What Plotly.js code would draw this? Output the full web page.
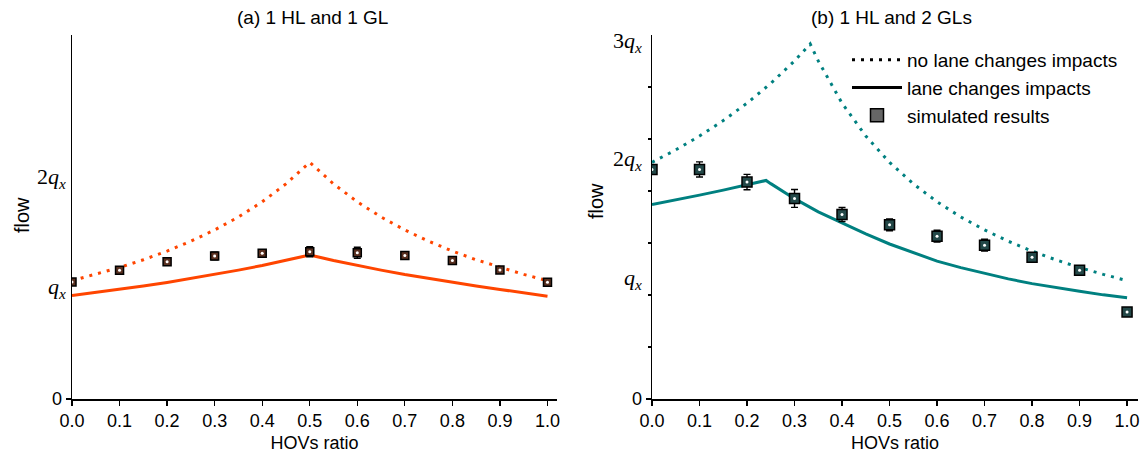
<!DOCTYPE html>
<html>
<head>
<meta charset="utf-8">
<script src="https://cdn.plot.ly/plotly-3.0.1.min.js"></script>
<style>html,body{margin:0;padding:0;background:#fff;}#chart{width:1145px;height:459px;}</style>
</head>
<body>
<div id="chart"></div>
<script>
// ---------- data (flow in units of q_x) ----------
const hovTicks = [0, 0.1, 0.2, 0.3, 0.4, 0.5, 0.6, 0.7, 0.8, 0.9, 1.0];
const hovTickText = ['0.0','0.1','0.2','0.3','0.4','0.5','0.6','0.7','0.8','0.9','1.0'];

// panel (a): 1 HL and 1 GL
const leftCurveX = [0,0.05,0.1,0.15,0.2,0.25,0.3,0.35,0.4,0.45,0.5,0.55,0.6,0.65,0.7,0.75,0.8,0.85,0.9,0.95,1.0];
const leftNoLC   = [1.076,1.133,1.196,1.266,1.345,1.435,1.537,1.655,1.793,1.956,2.152,1.956,1.793,1.655,1.537,1.435,1.345,1.266,1.196,1.133,1.076];
const leftLC     = [0.94,0.967,0.996,1.027,1.060,1.095,1.132,1.172,1.214,1.260,1.310,1.260,1.214,1.172,1.132,1.095,1.060,1.027,0.996,0.967,0.935];
const leftSimX   = [0,0.1,0.2,0.3,0.4,0.5,0.6,0.7,0.8,0.9,1.0];
const leftSim    = [1.064,1.17,1.248,1.30,1.325,1.339,1.33,1.306,1.26,1.173,1.061];
const leftSimErr = [0.01,0.015,0.02,0.035,0.025,0.045,0.05,0.03,0.035,0.025,0.01];

// panel (b): 1 HL and 2 GLs
const rightNoLCX = [0,0.05,0.1,0.15,0.2,0.25,0.3,0.333,0.35,0.4,0.45,0.5,0.55,0.6,0.65,0.7,0.75,0.8,0.85,0.9,0.95,1.0];
const rightNoLC  = [2.0,2.105,2.222,2.353,2.5,2.667,2.857,3.0,2.857,2.5,2.222,2.0,1.818,1.667,1.538,1.429,1.333,1.25,1.176,1.111,1.053,1.0];
const rightLCX   = [0,0.05,0.1,0.15,0.2,0.24,0.25,0.3,0.35,0.4,0.45,0.5,0.55,0.6,0.65,0.7,0.75,0.8,0.85,0.9,0.95,1.0];
const rightLC    = [1.644,1.682,1.723,1.765,1.810,1.847,1.820,1.693,1.582,1.485,1.395,1.31,1.235,1.165,1.11,1.06,1.015,0.975,0.94,0.91,0.88,0.856];
const rightSimX  = [0,0.1,0.2,0.3,0.4,0.5,0.6,0.7,0.8,0.9,1.0];
const rightSim   = [1.94,1.94,1.833,1.695,1.559,1.472,1.376,1.30,1.198,1.087,0.735];
const rightSimErr= [0.03,0.064,0.065,0.076,0.059,0.05,0.05,0.05,0.03,0.03,0.012];

const yLabelsLeft  = [1, 2];
const yLabelsRight = [1, 2, 3];
const qText = ['<i>q</i><sub><i>x</i></sub>', '2<i>q</i><sub><i>x</i></sub>', '3<i>q</i><sub><i>x</i></sub>'];

const legendNames = ['no lane changes impacts', 'lane changes impacts', 'simulated results'];

// ---------- styles ----------
const ORANGE = '#FF4500';
const TEAL = '#008080';
const SANS = 'Liberation Sans, Arial, sans-serif';
const SERIF = 'Liberation Serif, DejaVu Serif, serif';
const DOTS = '3px,6px';

function simTraces(x, y, err, xa, ya, fill, size) {
  return [{
    x: x, y: y, xaxis: xa, yaxis: ya, type: 'scatter', mode: 'markers', showlegend: false,
    marker: {symbol: 'square', size: size, color: fill, line: {color: '#000', width: 1.5}},
    error_y: {type: 'data', array: err, visible: true, color: '#000', thickness: 1.4, width: 3.5}
  }, {
    x: x, y: y, xaxis: xa, yaxis: ya, type: 'scatter', mode: 'markers', showlegend: false,
    marker: {symbol: 'circle', size: 3, color: '#fff'}
  }];
}

const traces = [
  {x: leftCurveX, y: leftNoLC, xaxis: 'x', yaxis: 'y', mode: 'lines', showlegend: false,
   line: {color: ORANGE, width: 3, dash: DOTS}},
  {x: leftCurveX, y: leftLC, xaxis: 'x', yaxis: 'y', mode: 'lines', showlegend: false,
   line: {color: ORANGE, width: 3}},
  ...simTraces(leftSimX, leftSim, leftSimErr, 'x', 'y', '#5a3020', 8),
  {x: rightNoLCX, y: rightNoLC, xaxis: 'x2', yaxis: 'y2', mode: 'lines', showlegend: false,
   line: {color: TEAL, width: 3, dash: DOTS}},
  {x: rightLCX, y: rightLC, xaxis: 'x2', yaxis: 'y2', mode: 'lines', showlegend: false,
   line: {color: TEAL, width: 3}},
  ...simTraces(rightSimX, rightSim, rightSimErr, 'x2', 'y2', '#234848', 10),
  // legend entries
  {x: [null], y: [null], xaxis: 'x2', yaxis: 'y2', mode: 'lines', name: legendNames[0],
   line: {color: '#000', width: 3, dash: DOTS}},
  {x: [null], y: [null], xaxis: 'x2', yaxis: 'y2', mode: 'lines', name: legendNames[1],
   line: {color: '#000', width: 3}},
  {x: [null], y: [null], xaxis: 'x2', yaxis: 'y2', mode: 'markers', name: legendNames[2],
   marker: {symbol: 'square', size: 13, color: '#666', line: {color: '#000', width: 1.5}}}
];

const W = 1145, H = 459;
const yDom = [1 - 399 / H, 1 - 35 / H];
const xCommon = {
  tickmode: 'array', tickvals: hovTicks, ticktext: hovTickText,
  ticks: 'outside', ticklen: 5, tickwidth: 1.3, tickcolor: '#000',
  showline: true, linecolor: '#000', linewidth: 1.5, showgrid: false, zeroline: false,
  tickfont: {family: SANS, size: 18, color: '#000'},
  title: {text: 'HOVs ratio', font: {family: SANS, size: 18, color: '#000'}, standoff: 6}
};
const yCommon = {
  domain: yDom, tickmode: 'array', tickvals: [0], ticktext: ['0'],
  ticks: 'outside', ticklen: 5, tickwidth: 1.3, tickcolor: '#000',
  showline: true, linecolor: '#000', linewidth: 1.5, showgrid: false, zeroline: false,
  tickfont: {family: SANS, size: 18, color: '#000'}
};

const annotations = [];
yLabelsLeft.forEach((v) => annotations.push({
  xref: 'paper', yref: 'y', x: 68 / W, y: v, xanchor: 'right', yanchor: 'middle', yshift: 1,
  text: qText[v - 1], showarrow: false, font: {family: SERIF, size: 22, color: '#000'}
}));
yLabelsRight.forEach((v) => annotations.push({
  xref: 'paper', yref: 'y2', x: 644 / W, y: v, xanchor: 'right', yanchor: 'middle', yshift: 2,
  text: qText[v - 1], showarrow: false, font: {family: SERIF, size: 22, color: '#000'}
}));
annotations.push(
  {xref: 'paper', yref: 'paper', x: 312 / W, y: 1 - 18 / H, xanchor: 'center', yanchor: 'middle',
   text: '(a) 1 HL and 1 GL', showarrow: false, font: {family: SANS, size: 19, color: '#000'}},
  {xref: 'paper', yref: 'paper', x: 891 / W, y: 1 - 18 / H, xanchor: 'center', yanchor: 'middle',
   text: '(b) 1 HL and 2 GLs', showarrow: false, font: {family: SANS, size: 19, color: '#000'}},
  {xref: 'paper', yref: 'paper', x: 22 / W, y: 1 - 215 / H, xanchor: 'center', yanchor: 'middle',
   text: 'flow', textangle: -90, showarrow: false, font: {family: SANS, size: 20, color: '#000'}},
  {xref: 'paper', yref: 'paper', x: 596 / W, y: 1 - 201 / H, xanchor: 'center', yanchor: 'middle',
   text: 'flow', textangle: -90, showarrow: false, font: {family: SANS, size: 20, color: '#000'}}
);

const layout = {
  width: W, height: H, margin: {l: 0, r: 0, t: 0, b: 0},
  paper_bgcolor: '#fff', plot_bgcolor: '#fff',
  xaxis: Object.assign({}, xCommon, {domain: [72 / W, 557 / W], range: [0, 1.02], anchor: 'y'}),
  yaxis: Object.assign({}, yCommon, {range: [0, 3.31], anchor: 'x'}),
  xaxis2: Object.assign({}, xCommon, {domain: [652 / W, 1138 / W], range: [0, 1.023], anchor: 'y2'}),
  yaxis2: Object.assign({}, yCommon, {range: [0, 3.076], anchor: 'x2',
    minor: {tick0: 0, dtick: 0.4395, ticks: 'outside', ticklen: 3, tickwidth: 1.3, tickcolor: '#000', showgrid: false}}),
  showlegend: true,
  legend: {x: 847 / W, y: 1 - 41 / H, xanchor: 'left', yanchor: 'top', bgcolor: 'rgba(0,0,0,0)',
    font: {family: SANS, size: 19, color: '#000'}, itemwidth: 50, tracegroupgap: 0},
  annotations: annotations
};

Plotly.newPlot('chart', traces, layout, {displayModeBar: false, staticPlot: true});
</script>
</body>
</html>
